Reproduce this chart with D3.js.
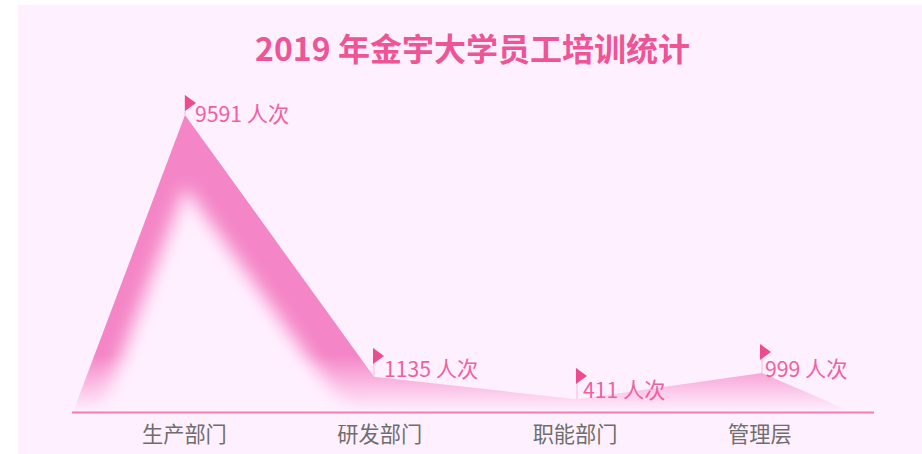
<!DOCTYPE html>
<html>
<head>
<meta charset="utf-8">
<script src="https://cdnjs.cloudflare.com/ajax/libs/d3/7.8.5/d3.min.js"></script>
<style>
  html, body { margin: 0; padding: 0; background: #fff; }
  svg { display: block; font-family: "Noto Sans CJK SC", sans-serif; }
</style>
</head>
<body>
<div id="chart"></div>
<script>
// Categories and printed labels
var categories = ["生产部门", "研发部门", "职能部门", "管理层"];
var valueLabels = ["9591 人次", "1135 人次", "411 人次", "999 人次"];
// Heights (the fourth peak stands taller than its printed 999)
var peakHeights = [9591, 1135, 411, 1260];

var w = 922, h = 454;
var baseY = 412;
var bg = "#fff0ff";

var svg = d3.select("#chart").append("svg").attr("width", w).attr("height", h);

svg.append("rect").attr("x", 18).attr("y", 5).attr("width", 904).attr("height", 449).attr("fill", bg);

// Area has two extra zero points at its ends
var areaKeys = ["start"].concat(categories, ["end"]);
var areaValues = [0].concat(peakHeights, [0]);

var x = d3.scaleOrdinal().domain(areaKeys).range([73, 185, 374, 577, 762, 852]);
var y = d3.scaleLinear().domain([0, 9591]).range([baseY, 115]);

// Layout of the axis labels, flags and value labels
var xAxisScale = d3.scalePoint().domain(categories).range([142, 728]);
var flagX = d3.scaleOrdinal().domain(categories).range([185, 373, 576, 760]);
var flagTop = d3.scaleOrdinal().domain(categories).range([95, 348, 368, 344]);
var labelX = d3.scaleOrdinal().domain(categories).range([195, 384, 583, 765]);
var labelY = d3.scaleOrdinal().domain(categories).range([122, 377, 398, 377]);

var defs = svg.append("defs");

var grad = defs.append("linearGradient")
    .attr("id", "areaFill")
    .attr("gradientUnits", "userSpaceOnUse")
    .attr("x1", 0).attr("y1", 355).attr("x2", 0).attr("y2", baseY);
grad.append("stop").attr("offset", 0).attr("stop-color", "#f485c6");
grad.append("stop").attr("offset", 1).attr("stop-color", "#f485c6").attr("stop-opacity", 0);

var area = d3.area()
    .x(function (d) { return x(d.key); })
    .y0(baseY)
    .y1(function (d) { return y(d.value); });

var areaData = areaKeys.map(function (k, i) { return { key: k, value: areaValues[i] }; });

defs.append("clipPath").attr("id", "areaClip")
    .append("path").attr("d", area(areaData));

var blur = defs.append("filter").attr("id", "soft")
    .attr("x", "-20%").attr("y", "-20%").attr("width", "140%").attr("height", "140%");
blur.append("feGaussianBlur").attr("stdDeviation", 9);

svg.append("path").attr("d", area(areaData)).attr("fill", "url(#areaFill)");

// Light inner part: a blurred copy of the area pushed down, clipped to the area
svg.append("g").attr("clip-path", "url(#areaClip)")
    .append("path")
    .attr("d", area(areaData))
    .attr("transform", "translate(0,72)")
    .attr("fill", bg)
    .attr("filter", "url(#soft)");

// Base line
svg.append("line")
    .attr("x1", 72).attr("x2", 874).attr("y1", baseY + 0.5).attr("y2", baseY + 0.5)
    .attr("stroke", "#f27db4").attr("stroke-width", 2);

// Category labels
svg.selectAll(".cat").data(categories).enter().append("text")
    .attr("class", "cat")
    .attr("x", function (d) { return xAxisScale(d); })
    .attr("y", 442)
    .attr("font-size", 21.2)
    .attr("fill", "#6e6e6e")
    .text(function (d) { return d; });

// Flags
var flags = svg.selectAll(".flag").data(categories).enter().append("g").attr("class", "flag");
flags.append("line")
    .attr("x1", function (d) { return x(d); })
    .attr("x2", function (d) { return x(d); })
    .attr("y1", function (d) { return flagTop(d); })
    .attr("y2", function (d, i) { return y(peakHeights[i]); })
    .attr("stroke", "#f8b8d8").attr("stroke-width", 1);
flags.append("path")
    .attr("d", function (d) {
        var fx = flagX(d), ft = flagTop(d);
        return "M" + fx + "," + ft + "L" + (fx + 11) + "," + (ft + 8) + "L" + fx + "," + (ft + 16) + "Z";
    })
    .attr("fill", "#ec4c8f");

// Value labels
svg.selectAll(".val").data(categories).enter().append("text")
    .attr("class", "val")
    .attr("x", function (d) { return labelX(d); })
    .attr("y", function (d) { return labelY(d); })
    .attr("font-size", 21.2)
    .attr("fill", "#f0609f")
    .text(function (d, i) { return valueLabels[i]; });

// Title
svg.append("text")
    .attr("x", 472.5).attr("y", 61)
    .attr("text-anchor", "middle")
    .attr("font-size", 32)
    .attr("font-weight", 700)
    .attr("fill", "#ee5596")
    .text("2019 年金宇大学员工培训统计");
</script>
</body>
</html>
